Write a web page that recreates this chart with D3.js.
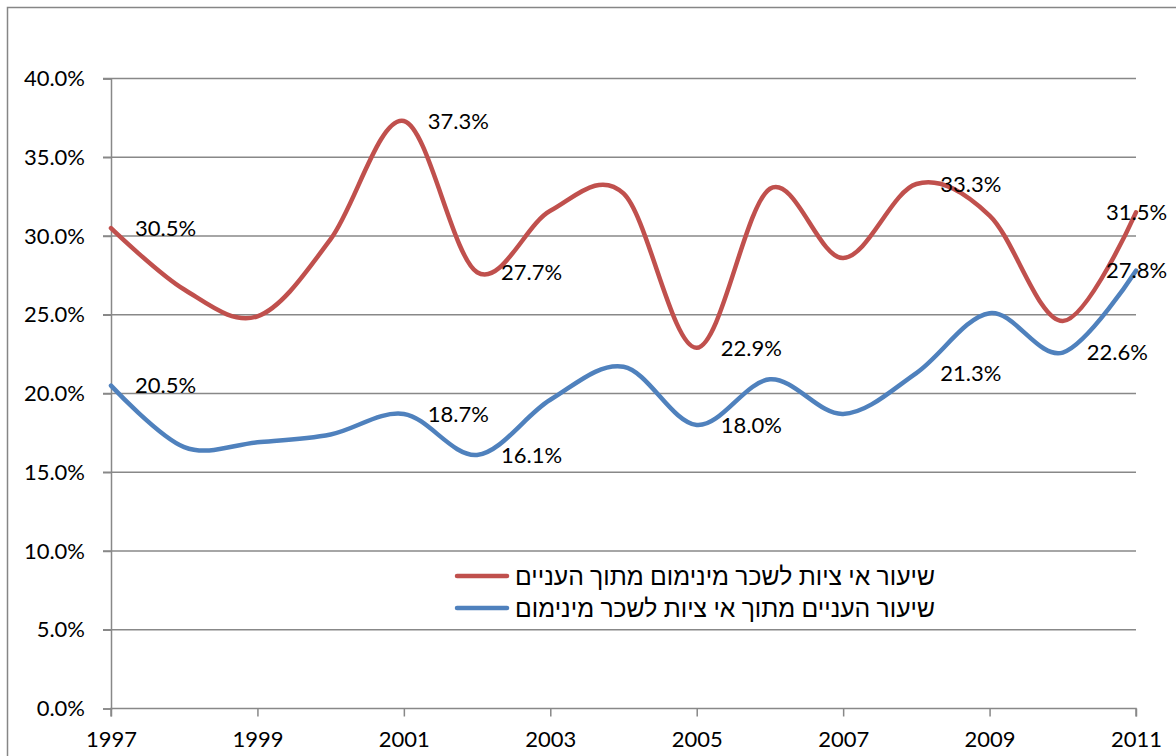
<!DOCTYPE html>
<html>
<head>
<meta charset="utf-8">
<script src="https://cdn.jsdelivr.net/npm/d3@7"></script>
<style>
  body { margin: 0; background: #fff; }
  svg text { font-family: Lato, "Liberation Sans", "DejaVu Sans", sans-serif; fill: #000; }
</style>
</head>
<body>
<script>
// data
const years = [1997, 1998, 1999, 2000, 2001, 2002, 2003, 2004, 2005, 2006, 2007, 2008, 2009, 2010, 2011];
const nonCompliance = [30.5, 26.6, 24.9, 29.8, 37.3, 27.7, 31.6, 32.7, 22.9, 33.0, 28.6, 33.3, 31.3, 24.6, 31.5];
const poverty = [20.5, 16.6, 16.9, 17.4, 18.7, 16.1, 19.6, 21.7, 18.0, 20.9, 18.7, 21.3, 25.1, 22.6, 27.8];
const redLabelYears = [1997, 2001, 2002, 2005, 2008, 2011];
const blueLabelYears = [1997, 2001, 2002, 2005, 2008, 2010, 2011];
const yTicks = [0, 5, 10, 15, 20, 25, 30, 35, 40];
const xTicks = [1997, 1999, 2001, 2003, 2005, 2007, 2009, 2011];
const seriesNames = ["שיעור אי ציות לשכר מינימום מתוך העניים", "שיעור העניים מתוך אי ציות לשכר מינימום"];

const w = 1176, h = 756;
const plotLeft = 111, plotRight = 1136, plotTop = 78.5, plotBottom = 708.5;

const svg = d3.select("body").append("svg")
    .attr("width", w)
    .attr("height", h);

// chart border
svg.append("rect")
    .attr("x", 7.5).attr("y", 7.5)
    .attr("width", w).attr("height", h)
    .attr("fill", "none")
    .attr("stroke", "#868686")
    .attr("stroke-width", 1.5);

const x = d3.scaleLinear().domain([1997, 2011]).range([plotLeft, plotRight]);
const y = d3.scaleLinear().domain([0, 40]).range([plotBottom, plotTop]);

// gridlines
svg.append("g")
    .selectAll("line")
    .data(yTicks.filter(d => d > 0))
    .enter().append("line")
    .attr("x1", plotLeft - 8).attr("x2", plotRight)
    .attr("y1", d => y(d)).attr("y2", d => y(d))
    .attr("stroke", "#888")
    .attr("stroke-width", 1.5);

// y axis
const yAxis = d3.axisLeft(y).tickValues(yTicks).tickSize(8).tickPadding(18)
    .tickFormat(d => d.toFixed(1) + "%");
const gy = svg.append("g")
    .attr("transform", "translate(" + plotLeft + ",0)")
    .call(yAxis);
gy.selectAll("line, path").attr("stroke", "#888").attr("stroke-width", 1.5);
gy.selectAll("text").attr("font-size", 22);

// x axis
const xAxis = d3.axisBottom(x).tickValues(xTicks).tickSize(8).tickPadding(15)
    .tickFormat(d3.format("d"));
const gx = svg.append("g")
    .attr("transform", "translate(0," + plotBottom + ")")
    .call(xAxis);
gx.selectAll("line, path").attr("stroke", "#888").attr("stroke-width", 1.5);
gx.select(".domain").attr("d", "M" + plotLeft + ",8V0H" + plotRight + "V8");
gx.selectAll("text").attr("font-size", 22);
svg.selectAll(".tick text").attr("fill", "#000");
gx.attr("font-family", null);
gy.attr("font-family", null);

// lines
const line = d3.line()
    .x(d => x(d[0]))
    .y(d => y(d[1]))
    .curve(d3.curveCardinal.tension(0));

const series = [
    { values: nonCompliance, color: "#C0504D", labels: redLabelYears },
    { values: poverty, color: "#4F81BD", labels: blueLabelYears }
];

series.forEach(s => {
    svg.append("path")
        .datum(years.map((yr, i) => [yr, s.values[i]]))
        .attr("d", line)
        .attr("fill", "none")
        .attr("stroke", s.color)
        .attr("stroke-width", 4.5)
        .attr("stroke-linecap", "round");
});

// data labels
series.forEach(s => {
    svg.append("g")
        .selectAll("text")
        .data(s.labels)
        .enter().append("text")
        .attr("x", d => Math.min(x(d) + 24, 1106))
        .attr("y", d => y(s.values[years.indexOf(d)]))
        .attr("dy", "0.35em")
        .attr("font-size", 22)
        .text(d => s.values[years.indexOf(d)].toFixed(1) + "%");
});

// legend
const legend = svg.append("g");
seriesNames.forEach((name, i) => {
    const ly = 576 + i * 32;
    legend.append("line")
        .attr("x1", 457).attr("x2", 507)
        .attr("y1", ly).attr("y2", ly)
        .attr("stroke", series[i].color)
        .attr("stroke-width", 4.5)
        .attr("stroke-linecap", "round");
    legend.append("text")
        .attr("x", 935)
        .attr("y", ly)
        .attr("dy", "0.35em")
        .attr("text-anchor", "end")
        .attr("font-size", 24.7)
        .text(name);
});
</script>
</body>
</html>
